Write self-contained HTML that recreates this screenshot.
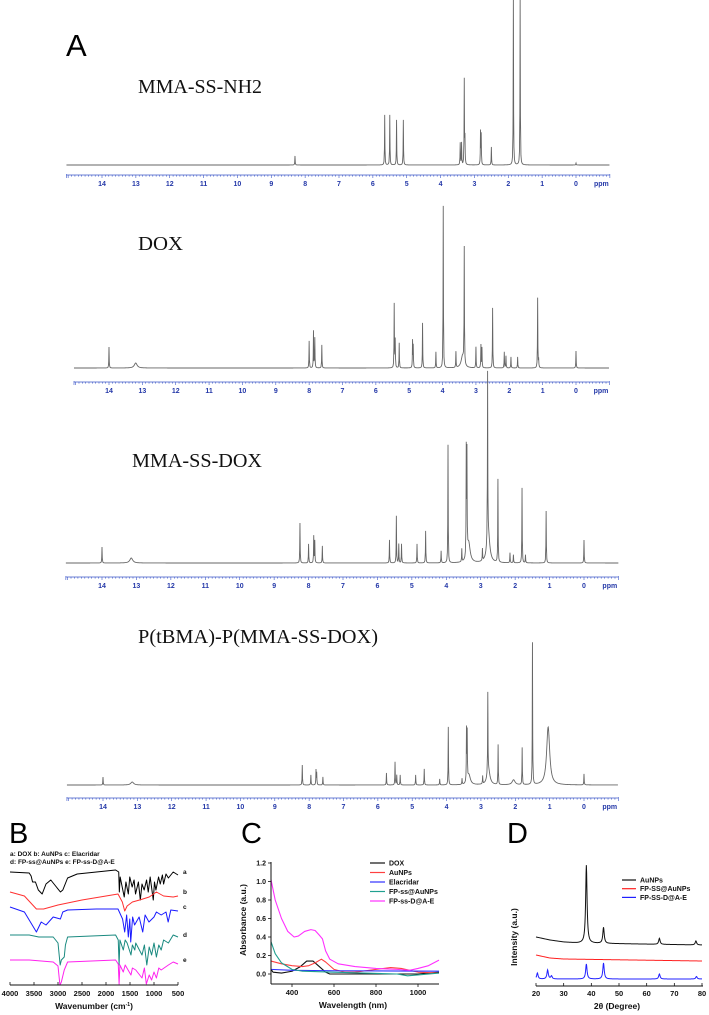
<!DOCTYPE html>
<html><head><meta charset="utf-8">
<style>
html,body{margin:0;padding:0;background:#fff;}
svg{display:block;}
text{font-family:"Liberation Sans",sans-serif;}
.serif{font-family:"Liberation Serif",serif;}
</style></head>
<body>
<svg id="fig" width="709" height="1015" viewBox="0 0 709 1015" xmlns="http://www.w3.org/2000/svg">
<text x="66" y="56" font-size="31" fill="#000">A</text>
<text x="9" y="843" font-size="29" fill="#000">B</text>
<text x="241" y="843" font-size="29" fill="#000">C</text>
<text x="507" y="843" font-size="29" fill="#000">D</text>
<g id="nmr"></g><g id="ftir"></g><g id="uv"></g><g id="xrd"></g>
</svg>
<script>
const NS="http://www.w3.org/2000/svg";
function mk(tag,attrs,parent){const e=document.createElementNS(NS,tag);for(const k in attrs)e.setAttribute(k,attrs[k]);parent.appendChild(e);return e;}

/* ---------- NMR data ---------- */
const nmrNames=["MMA-SS-NH2","DOX","MMA-SS-DOX","P(tBMA)-P(MMA-SS-DOX)"];
const nmr1Ppm=[8.3,5.65,5.5,5.3,5.1,3.42,3.38,3.3,3.28,2.82,2.8,2.5,1.85,1.65,0.0];
const nmr1Int=[9,50,50,45,45,22,22,85,25,33,30,18,165,165,2];
const nmr1Broad=[0,0,0,0,0,0,0,0,0,0,0,0,0,0,0];
const nmr2Ppm=[14.0,13.2,8.0,7.87,7.83,7.62,5.45,5.42,5.3,4.9,4.88,4.6,4.2,3.98,3.6,3.4,3.35,3.0,2.85,2.82,2.5,2.15,2.1,1.95,1.75,1.15,1.12,0.0];
const nmr2Int=[21,5,27,37,30,23,64,28,25,27,22,45,16,162,16,12,116,21,23,20,60,16,12,11,11,70,8,17];
const nmr2Broad=[0,1,0,0,0,0,0,0,0,0,0,0,0,0,0,1,0,0,0,0,0,0,0,0,0,0,0,0];
const nmr3Ppm=[14.0,13.15,8.25,8.0,7.85,7.82,7.6,5.65,5.45,5.38,5.3,4.85,4.6,4.15,3.95,3.55,3.42,3.4,3.35,2.95,2.8,2.78,2.5,2.15,2.05,1.8,1.7,1.1,0.0];
const nmr3Int=[16,5,40,19,27,22,17,23,47,19,19,19,32,12,118,13,106,100,20,12,166,30,83,10,8,75,8,52,23];
const nmr3Broad=[0,1,0,0,0,0,0,0,0,0,0,0,0,0,0,0,0,0,1,0,0,1,0,0,0,0,0,0,0];
const nmr4Ppm=[14.0,13.15,8.2,7.95,7.8,7.78,7.6,5.75,5.5,5.45,5.35,4.9,4.65,4.2,3.95,3.55,3.42,3.4,3.35,2.95,2.8,2.78,2.5,2.05,1.8,1.5,1.05,1.03,0.0];
const nmr4Int=[8,3,20,10,15,12,8,12,23,10,10,10,16,6,58,6,52,48,10,8,80,15,40,5,37,142,40,20,11];
const nmr4Broad=[0,1,0,0,0,0,0,0,0,0,0,0,0,0,0,0,0,0,1,0,0,1,0,1,0,0,1,1,0];
const nmrTicks=[14,13,12,11,10,9,8,7,6,5,4,3,2,1,0];

const nmrLayout=[
 {x14:102,x0:576,base:165,axis:175,lx:138,ly:93,tw:124},
 {x14:109,x0:576,base:368,axis:382,lx:138,ly:250,tw:45},
 {x14:102,x0:584,base:563,axis:577,lx:132,ly:467,tw:130},
 {x14:103,x0:584,base:785,axis:798,lx:138,ly:643,tw:240}];
const nmrData=[[nmr1Ppm,nmr1Int,nmr1Broad],[nmr2Ppm,nmr2Int,nmr2Broad],[nmr3Ppm,nmr3Int,nmr3Broad],[nmr4Ppm,nmr4Int,nmr4Broad]];

const gN=document.getElementById('nmr');
nmrLayout.forEach((L,i)=>{
  const g=mk('g',{},gN);
  
  
  const s=(L.x0-L.x14)/14;
  const X=p=>L.x0-p*s;
  const [pp,ii,bb]=nmrData[i];
  const xL=X(15.05), xR=X(-1.0);
  const xs=[];
  for(let x=xL;x<=xR;x+=0.5)xs.push(x);
  pp.forEach(p=>{xs.push(X(p));xs.push(X(p)-0.3);xs.push(X(p)+0.3);});
  xs.sort((a,b)=>a-b);
  let d='';
  xs.forEach((x,k)=>{
    const p=(L.x0-x)/s;let v=0;
    pp.forEach((c,j)=>{const w=bb[j]?0.05:0.006;const t=(p-c)/w;v+=ii[j]/(1+t*t);});
    d+=(k?'L':'M')+x.toFixed(2)+' '+(L.base-v).toFixed(2);
  });
  const path=mk('path',{d:d,fill:'none',stroke:'#666','stroke-width':0.9},g);
  
  
  const ax=mk('g',{},g);
  
  
  mk('line',{x1:xL,x2:xR,y1:L.axis,y2:L.axis,stroke:'#3b56c8','stroke-width':0.8},ax);
  let td='';
  for(let p=-10;p<=150;p++){const x=X(p/10);if(x<xL||x>xR)continue;td+='M'+x.toFixed(2)+' '+L.axis+'v'+(p%10===0?3:1.6);}
  td+='M'+xL+' '+(L.axis-1)+'v4M'+xR+' '+(L.axis-1)+'v4';
  mk('path',{d:td,stroke:'#3b56c8','stroke-width':0.6,fill:'none'},ax);
  nmrTicks.forEach(t=>{
    const tx=mk('text',{x:X(t),y:L.axis+11,'font-size':7,'font-weight':'bold','text-anchor':'middle',fill:'#2438a8'},ax);
    tx.textContent=t;
    
    
  });
  const pu=mk('text',{x:X(-0.75),y:L.axis+11,'font-size':7,'font-weight':'bold','text-anchor':'middle',fill:'#2438a8'},ax);
  pu.textContent='ppm';
  
  
  const lab=mk('text',{x:L.lx,y:L.ly,'font-size':20,fill:'#111',class:'serif',textLength:L.tw,lengthAdjust:'spacingAndGlyphs'},g);
  lab.textContent=nmrNames[i];
  
  
});

/* ---------- FTIR (B) ---------- */
const irLetters=["a","b","c","d","e"];
const irColors=["#000000","#ff3030","#1a1aff","#1a8a80","#ff22ee"];
const irTicks=[4000,3500,3000,2500,2000,1500,1000,500];
const irA=[[4000,0],[3600,1],[3560,4],[3530,10],[3470,10],[3410,18],[3330,22],[3250,12],[3150,8],[3050,14],[2950,20],[2900,18],[2800,6],[2600,2],[2200,0],[1800,-2],[1735,0],[1722,20],[1705,5],[1620,25],[1585,10],[1535,22],[1505,5],[1455,15],[1415,8],[1385,22],[1325,10],[1285,28],[1250,12],[1205,18],[1155,8],[1120,20],[1080,5],[1015,28],[990,10],[960,18],[905,5],[870,12],[825,3],[800,12],[750,2],[700,6],[600,0],[500,3]];
const irB=[[4000,0],[3700,4],[3450,17],[3300,17],[3000,13],[2500,8],[2000,4],[1750,2],[1660,10],[1610,19],[1560,14],[1450,10],[1300,8],[1100,5],[950,0],[800,4],[600,5],[500,4]];
const irC=[[4000,0],[3700,5],[3450,25],[3350,15],[3250,18],[3100,10],[2950,12],[2900,5],[2800,3],[2200,2],[1750,2],[1655,12],[1610,25],[1570,8],[1535,30],[1505,12],[1485,35],[1445,10],[1405,18],[1310,10],[1235,25],[1185,8],[1105,15],[1000,10],[950,5],[850,8],[750,5],[705,15],[650,3],[500,4]];
const irD=[[4000,0],[3600,0],[3400,2],[3100,2],[3000,8],[2955,30],[2930,25],[2870,22],[2845,10],[2800,2],[1800,0],[1745,5],[1727,30],[1710,5],[1640,15],[1600,5],[1560,8],[1480,20],[1450,10],[1400,15],[1380,8],[1250,20],[1200,10],[1150,30],[1100,12],[1050,20],[1000,8],[950,22],[900,10],[850,15],[800,5],[700,8],[600,0],[500,2]];
const irE=[[4000,0],[3600,0],[3100,2],[3000,6],[2960,25],[2930,22],[2870,10],[2800,2],[1800,0],[1745,4],[1727,24],[1710,5],[1640,12],[1600,5],[1480,15],[1450,8],[1380,10],[1250,18],[1200,8],[1160,24],[1100,15],[1050,20],[1000,12],[950,18],[900,8],[850,10],[700,5],[600,2],[500,4]];
const irSeries=[irA,irB,irC,irD,irE];
const irBase=[872,892,907,935,960];
(function(){
  const g=document.getElementById('ftir');
  
  
  const X=w=>10+(4000-w)*0.048;
  const l1=mk('text',{x:10,y:856,'font-size':6.5,'font-weight':'bold',fill:'#111'},g);
  l1.textContent='a: DOX    b: AuNPs    c: Elacridar';
  
  
  const l2=mk('text',{x:10,y:864,'font-size':6.5,'font-weight':'bold',fill:'#111'},g);
  l2.textContent='d: FP-ss@AuNPs     e: FP-ss-D@A-E';
  
  
  irSeries.forEach((s,i)=>{
    const d=s.map((p,k)=>(k?'L':'M')+X(p[0]).toFixed(2)+' '+(irBase[i]+p[1]).toFixed(2)).join('');
    const pa=mk('path',{d:d,fill:'none',stroke:irColors[i],'stroke-width':1,'stroke-linejoin':'round'},g);
    
    
    const t=mk('text',{x:183,y:irBase[i]+2,'font-size':6.5,'font-weight':'bold',fill:'#111'},g);
    t.textContent=irLetters[i];
    
    
  });
  mk('line',{x1:10,x2:178,y1:985,y2:985,stroke:'#111','stroke-width':1},g);
  irTicks.forEach(w=>{
    mk('line',{x1:X(w),x2:X(w),y1:985,y2:982,stroke:'#111','stroke-width':0.8},g);
    const t=mk('text',{x:X(w),y:996,'font-size':7.5,'font-weight':'bold','text-anchor':'middle',fill:'#111'},g);
    t.textContent=w;
    
    
  });
  const tt=mk('text',{x:94,y:1009,'font-size':8.5,'font-weight':'bold','text-anchor':'middle',fill:'#111'},g);
  tt.innerHTML='Wavenumber (cm<tspan dy="-3" font-size="5">-1</tspan><tspan dy="3">)</tspan>';
  
  
})();

/* ---------- UV-vis (C) ---------- */
const uvNames=["DOX","AuNPs","Elacridar","FP-ss@AuNPs","FP-ss-D@A-E"];
const uvColors=["#111111","#ff4040","#3030ff","#20a090","#ff30ff"];
const uvYTicks=[0.0,0.2,0.4,0.6,0.8,1.0,1.2];
const uvXTicks=[400,600,800,1000];
const uvDox=[[300,0.05],[310,0.02],[350,0.01],[400,0.03],[440,0.08],[470,0.14],[500,0.14],[530,0.08],[560,0.02],[580,0.0],[700,0.0],[900,0.0],[1000,0.0],[1100,0.02]];
const uvAu=[[300,0.14],[350,0.11],[400,0.09],[450,0.08],[480,0.09],[510,0.12],[540,0.16],[560,0.13],[600,0.05],[650,0.02],[700,0.02],[800,0.05],[870,0.07],[920,0.06],[960,0.04],[1000,0.02],[1100,0.01]];
const uvEla=[[300,0.05],[400,0.04],[600,0.035],[1100,0.03]];
const uvFpAu=[[300,0.35],[320,0.22],[350,0.12],[400,0.05],[450,0.03],[600,0.02],[900,0.0],[950,-0.02],[1000,-0.01],[1100,0.01]];
const uvFpDae=[[300,1.02],[320,0.8],[350,0.6],[380,0.46],[410,0.40],[430,0.41],[460,0.46],[490,0.48],[510,0.47],[530,0.42],[545,0.38],[560,0.25],[580,0.16],[620,0.11],[700,0.08],[800,0.06],[900,0.05],[960,0.04],[1000,0.06],[1050,0.09],[1100,0.15]];
const uvSeries=[uvDox,uvAu,uvEla,uvFpAu,uvFpDae];
(function(){
  const g=document.getElementById('uv');
  
  
  const X=w=>271+(w-300)*0.21, Y=v=>974-v*92.5;
  uvSeries.forEach((s,i)=>{
    const d=s.map((p,k)=>(k?'L':'M')+X(p[0]).toFixed(2)+' '+Y(p[1]).toFixed(2)).join('');
    const pa=mk('path',{d:d,fill:'none',stroke:uvColors[i],'stroke-width':1.1,'stroke-linejoin':'round'},g);
    
    
  });
  mk('line',{x1:271,x2:271,y1:862,y2:984,stroke:'#111','stroke-width':1},g);
  mk('line',{x1:271,x2:439,y1:984,y2:984,stroke:'#111','stroke-width':1},g);
  uvYTicks.forEach(v=>{
    mk('line',{x1:268,x2:271,y1:Y(v),y2:Y(v),stroke:'#111','stroke-width':0.8},g);
    const t=mk('text',{x:266,y:Y(v)+2.5,'font-size':7,'font-weight':'bold','text-anchor':'end',fill:'#111'},g);
    t.textContent=v.toFixed(1);
    
    
  });
  uvXTicks.forEach(w=>{
    mk('line',{x1:X(w),x2:X(w),y1:984,y2:987,stroke:'#111','stroke-width':0.8},g);
    const t=mk('text',{x:X(w),y:995,'font-size':7.5,'font-weight':'bold','text-anchor':'middle',fill:'#111'},g);
    t.textContent=w;
    
    
  });
  const xt=mk('text',{x:353,y:1008,'font-size':8.5,'font-weight':'bold','text-anchor':'middle',fill:'#111'},g);
  xt.textContent='Wavelength (nm)';
  
  
  const yt=mk('text',{x:0,y:0,'font-size':8.5,'font-weight':'bold','text-anchor':'middle',fill:'#111',transform:'translate(246,920) rotate(-90)'},g);
  yt.textContent='Absorbance (a.u.)';
  
  
  uvNames.forEach((n,i)=>{
    const y=863+i*9.5;
    const le=mk('g',{},g);
    
    
    mk('line',{x1:370,x2:385,y1:y,y2:y,stroke:uvColors[i],'stroke-width':1.2},le);
    const t=mk('text',{x:389,y:y+2.5,'font-size':7,'font-weight':'bold',fill:'#111'},le);
    t.textContent=n;
  });
})();

/* ---------- XRD (D) ---------- */
const xrdNames=["AuNPs","FP-SS@AuNPs","FP-SS-D@A-E"];
const xrdColors=["#111111","#ff2020","#2020ff"];
const xrdTicks=[20,30,40,50,60,70,80];
const xrdBase1=[[20,49],[25,46],[30,44],[35,43],[80,41]];
const xrdPeaks1=[[38.2,78],[44.4,16],[64.6,6],[77.8,4]];
const xrdBase2=[[20,31],[25,28],[30,27],[80,25]];
const xrdPeaks2=[];
const xrdBase3=[[20,7],[80,7]];
const xrdPeaks3=[[20.5,6],[24.2,9],[25.6,3],[38.2,15],[44.4,16],[64.6,5],[78,2.5]];
const xrdBases=[xrdBase1,xrdBase2,xrdBase3];
const xrdPeaks=[xrdPeaks1,xrdPeaks2,xrdPeaks3];
(function(){
  const g=document.getElementById('xrd');
  
  
  const X=t=>536+(t-20)*(166/60), Y=v=>986-v;
  const interp=(b,t)=>{for(let k=1;k<b.length;k++){if(t<=b[k][0]){const a=b[k-1],c=b[k];return a[1]+(c[1]-a[1])*(t-a[0])/(c[0]-a[0]);}}return b[b.length-1][1];};
  xrdBases.forEach((b,i)=>{
    let d='';
    for(let t=20;t<=80.001;t+=0.1){
      let v=interp(b,t);
      xrdPeaks[i].forEach(p=>{const u=(t-p[0])/0.3;v+=p[1]/(1+u*u);});
      d+=(t>20?'L':'M')+X(t).toFixed(2)+' '+Y(v).toFixed(2);
    }
    const pa=mk('path',{d:d,fill:'none',stroke:xrdColors[i],'stroke-width':1},g);
    
    
  });
  mk('line',{x1:536,x2:703,y1:986,y2:986,stroke:'#111','stroke-width':1},g);
  xrdTicks.forEach(t=>{
    mk('line',{x1:X(t),x2:X(t),y1:986,y2:983,stroke:'#111','stroke-width':0.8},g);
    const tx=mk('text',{x:X(t),y:996,'font-size':7.5,'font-weight':'bold','text-anchor':'middle',fill:'#111'},g);
    tx.textContent=t;
    
    
  });
  const xt=mk('text',{x:617,y:1009,'font-size':8.5,'font-weight':'bold','text-anchor':'middle',fill:'#111'},g);
  xt.textContent='2θ (Degree)';
  
  
  const yt=mk('text',{x:0,y:0,'font-size':8.5,'font-weight':'bold','text-anchor':'middle',fill:'#111',transform:'translate(517,937) rotate(-90)'},g);
  yt.textContent='Intensity (a.u.)';
  
  
  xrdNames.forEach((n,i)=>{
    const y=880+i*8.7;
    const le=mk('g',{},g);
    
    
    mk('line',{x1:622,x2:636,y1:y,y2:y,stroke:xrdColors[i],'stroke-width':1.2},le);
    const t=mk('text',{x:640,y:y+2.5,'font-size':7,'font-weight':'bold',fill:'#111'},le);
    t.textContent=n;
  });
})();
</script>
</body></html>
